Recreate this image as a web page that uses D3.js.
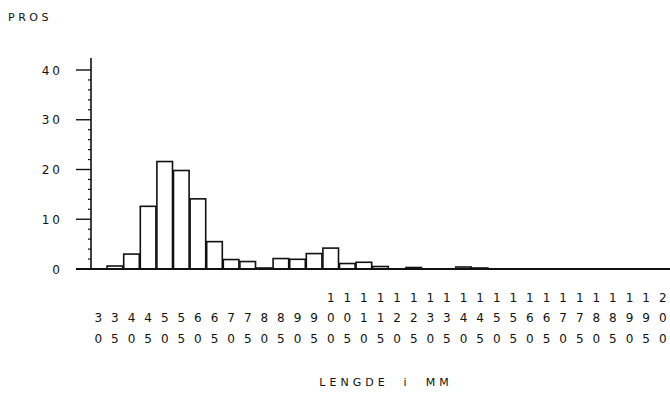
<!DOCTYPE html>
<html><head><meta charset="utf-8">
<script src="https://cdn.jsdelivr.net/npm/d3@7"></script>
<style>
body{margin:0;background:#fff;}
text{font-family:"DejaVu Sans",sans-serif;fill:#111;}
</style></head>
<body><svg id="c" width="670" height="408"></svg>
<script>
const categories = [30,35,40,45,50,55,60,65,70,75,80,85,90,95,100,105,110,115,120,125,130,135,140,145,150,155,160,165,170,175,180,185,190,195,200];
const values =     [0,0.6,3.0,12.6,21.6,19.8,14.1,5.5,1.9,1.5,0.2,2.1,1.95,3.1,4.2,1.1,1.35,0.5,0,0.3,0,0,0.4,0.2,0,0,0,0,0,0,0,0,0,0,0];
const yTicks = [0,10,20,30,40];
const yLabel = "PROS";
const xLabel = "LENGDE  i  MM";

const svg = d3.select("#c");
const x = d3.scaleBand().domain(categories).range([90,671]).padding(0);
const y = d3.scaleLinear().domain([0,40]).range([269,70]);

// bars
svg.append("g").selectAll("rect").data(categories.map((c,i)=>({c,v:values[i]})).filter(d=>d.v>0))
  .join("rect")
  .attr("x",d=>x(d.c)+0.5).attr("width",x.bandwidth()-1)
  .attr("y",d=>y(d.v)).attr("height",d=>y(0)-y(d.v))
  .attr("fill","#fff").attr("stroke","#111").attr("stroke-width",1.6);

// baseline
svg.append("line").attr("x1",76).attr("x2",670).attr("y1",y(0)).attr("y2",y(0))
  .attr("stroke","#111").attr("stroke-width",2);

// y axis
const ax = 91;
svg.append("line").attr("x1",ax).attr("x2",ax).attr("y1",y(0)).attr("y2",58)
  .attr("stroke","#111").attr("stroke-width",1.6);
svg.append("g").selectAll("line").data(yTicks).join("line")
  .attr("x1",76).attr("x2",ax).attr("y1",d=>y(d)).attr("y2",d=>y(d))
  .attr("stroke","#111").attr("stroke-width",1.4);
const minor = d3.range(0,40,2).filter(v=>v%10!==0);
svg.append("g").selectAll("line").data(minor).join("line")
  .attr("x1",ax-3).attr("x2",ax).attr("y1",d=>y(d)).attr("y2",d=>y(d))
  .attr("stroke","#111").attr("stroke-width",1.2);
svg.append("g").selectAll("text").data(yTicks).join("text")
  .attr("x",63).attr("y",d=>y(d)+4.5).attr("text-anchor","end")
  .attr("font-size",12).attr("letter-spacing",3)
  .text(d=>String(d));

svg.append("text").attr("x",8).attr("y",21).attr("font-size",11).attr("letter-spacing",3.5).text(yLabel);

// x labels (stacked digits)
const rowsY = [302,322,343];
categories.forEach(c=>{
  const s = String(c).padStart(3," ");
  for(let r=0;r<3;r++){
    if(s[r]===" ") continue;
    svg.append("text").attr("x",x(c)+x.bandwidth()/2).attr("y",rowsY[r])
      .attr("text-anchor","middle").attr("font-size",12).text(s[r]);
  }
});

svg.append("text").attr("x",386).attr("y",386).attr("text-anchor","middle")
  .attr("font-size",11).attr("letter-spacing",4).attr("xml:space","preserve")
  .style("white-space","pre").text(xLabel);
</script></body></html>
